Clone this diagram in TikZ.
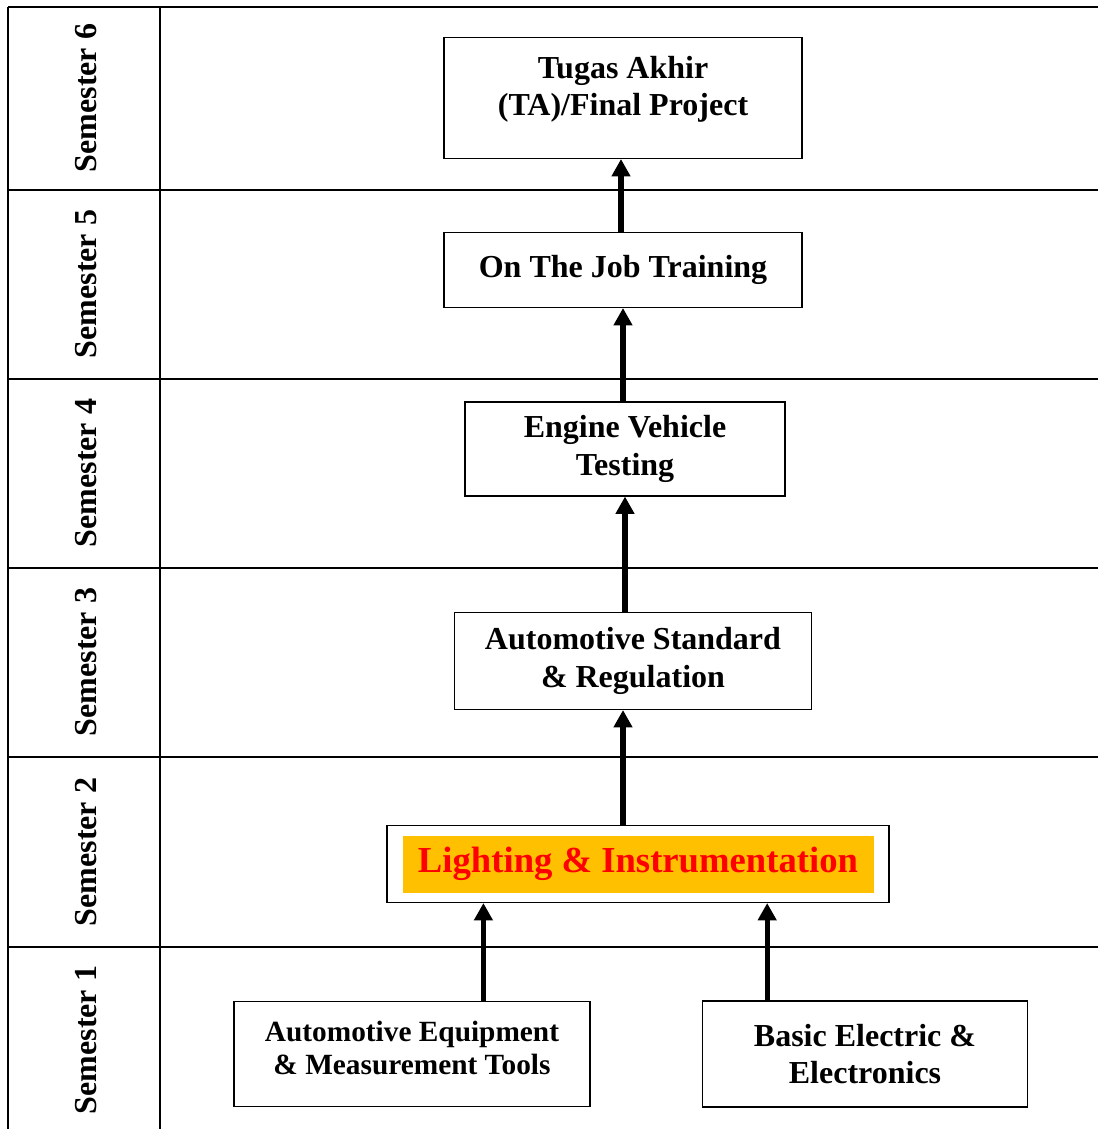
\documentclass[tikz,border=0pt]{standalone}
\usepackage{fontspec}
\setmainfont{Liberation Serif}
\usepackage{tikz}
\usetikzlibrary{positioning}
\usetikzlibrary{calc}
\usetikzlibrary{arrows.meta}
\definecolor{hlorange}{HTML}{FFC000}
\definecolor{hlred}{HTML}{FF0000}

\begin{document}
\begin{tikzpicture}[x=0.75pt, y=-0.75pt,
		grid/.style={black, line width=1.6pt},
		sem/.style={rotate=90, font=\fontsize{24}{28}\selectfont\bfseries},
		course/.style={draw=black, line width=0.8pt, align=center, inner sep=0pt,
			font=\fontsize{24}{28}\selectfont\bfseries},
		flow/.style={black, line width=4pt, -{Triangle[width=13.5pt, length=13pt]}}]
		\useasboundingbox (0,0) rectangle (1098,1129);
		% table of semesters
		\draw[grid] (8,7) -- (8,1129);
		\draw[grid] (160,7) -- (160,1129);
		\foreach \y in {7,190,379,568,757,947}
			\draw[grid] (8,\y) -- (1098,\y);
		\foreach \n/\y in {6/98,5/284,4/473,3/662,2/852,1/1040}
			\node[sem] (sem\n) at (86,\y) {Semester \n};
		% courses
		\node[course, minimum width=268.5pt, minimum height=90.75pt, text depth=18pt] (ta) at (623,98) {Tugas Akhir\\(TA)/Final Project};
		\node[course, minimum width=268.5pt, minimum height=56.25pt] (ojt) at (623,270) {On The Job Training};
		\node[course, minimum width=240pt, minimum height=70.5pt] (engine) at (625,449) {Engine Vehicle\\Testing};
		\node[course, minimum width=267.75pt, minimum height=72.75pt] (standard) at (633,661) {Automotive Standard\\ \& Regulation};
		\node[course, minimum width=376.5pt, minimum height=57.75pt] (light) at (638,864) {};
		\node[fill=hlorange, text=hlred, minimum width=353.25pt, minimum height=42.75pt, inner sep=0pt,
			font=\fontsize{27.5}{30}\selectfont\bfseries] (lighttext) at (light.center) {Lighting \& Instrumentation};
		\node[course, minimum width=267pt, minimum height=78.75pt, text depth=9.5pt,
			font=\fontsize{22}{25}\selectfont\bfseries] (equip) at (412,1054) {Automotive Equipment\\\& Measurement Tools};
		\node[course, minimum width=243.75pt, minimum height=79.5pt] (basic) at (865,1054) {Basic Electric \&\\Electronics};
		% arrows
		\coordinate (equiptop) at ($(equip.north west)!0.70!(equip.north east)$);
		\coordinate (basictop) at ($(basic.north west)!0.20!(basic.north east)$);
		\draw[flow] (equiptop) -- (equiptop |- light.south);
		\draw[flow] (basictop) -- (basictop |- light.south);
		\draw[flow] (light.north -| 623,0) -- (standard.south -| 623,0);
		\draw[flow] (standard.north -| 625,0) -- (engine.south -| 625,0);
		\draw[flow] (engine.north -| 623,0) -- (ojt.south -| 623,0);
		\draw[flow] (ojt.north -| 621,0) -- (ta.south -| 621,0);
\end{tikzpicture}
\end{document}
